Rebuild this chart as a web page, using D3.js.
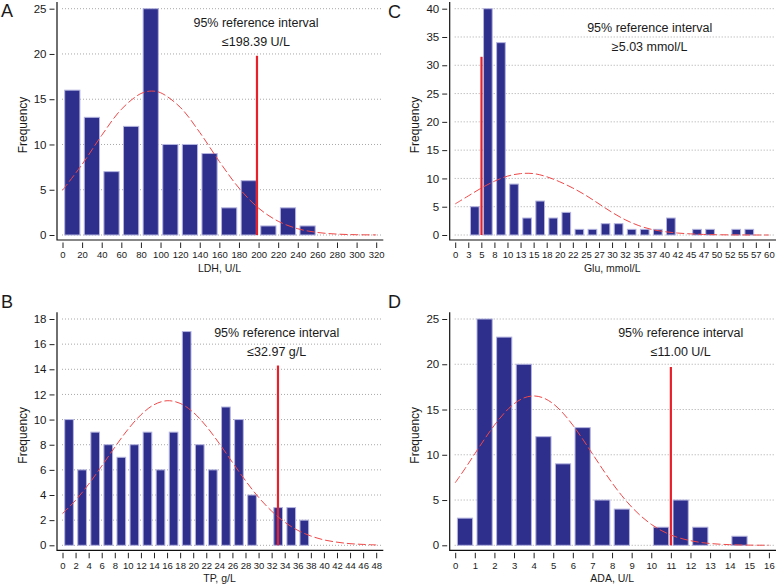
<!DOCTYPE html>
<html>
<head>
<meta charset="utf-8">
<script src="https://cdn.jsdelivr.net/npm/d3@7"></script>
<style>
  body { margin: 0; background: #fff; }
  svg { display: block; }
  text { font-family: "Liberation Sans", Arial, Helvetica, sans-serif; fill: #1a1a1a; }
</style>
</head>
<body>
<svg width="777" height="588"></svg>
<script>
// ---- Data ----

// A: LDH
const ldhBins = [0, 20, 40, 60, 80, 100, 120, 140, 160, 180, 200, 220, 240];
const ldhCounts = [16, 13, 7, 12, 25, 10, 10, 9, 3, 6, 1, 3, 1];
const ldhTicks = [0, 20, 40, 60, 80, 100, 120, 140, 160, 180, 200, 220, 240, 260, 280, 300, 320];
const ldhYTicks = [0, 5, 10, 15, 20, 25];
const ldhCurveX = [0, 20, 40, 60, 80, 91, 100, 120, 140, 160, 180, 200, 220, 240, 260, 280, 300, 320];
const ldhCurveY = [4.94, 7.8, 11.01, 13.88, 15.63, 15.9, 15.72, 14.12, 11.33, 8.12, 5.19, 2.97, 1.52, 0.69, 0.28, 0.1, 0.03, 0.01];

// B: TP
const tpBins = [0, 2, 4, 6, 8, 10, 12, 14, 16, 18, 20, 22, 24, 26, 28, 30, 32, 34, 36];
const tpCounts = [10, 6, 9, 8, 7, 8, 9, 6, 9, 17, 8, 6, 11, 10, 4, 0, 3, 3, 2];
const tpTicks = [0, 2, 4, 6, 8, 10, 12, 14, 16, 18, 20, 22, 24, 26, 28, 30, 32, 34, 36, 38, 40, 42, 44, 46, 48];
const tpYTicks = [0, 2, 4, 6, 8, 10, 12, 14, 16, 18];
const tpCurveX = [0, 2, 4, 6, 8, 10, 12, 14, 16, 18, 20, 22, 24, 26, 28, 30, 32, 34, 36, 38, 40, 42, 44, 46, 48];
const tpCurveY = [2.52, 3.58, 4.86, 6.3, 7.8, 9.21, 10.38, 11.18, 11.5, 11.29, 10.58, 9.47, 8.09, 6.6, 5.14, 3.82, 2.72, 1.84, 1.19, 0.74, 0.43, 0.25, 0.13, 0.07, 0.03];

// C: Glu
const gluBins = [2.5, 5, 7.5, 10, 12.5, 15, 17.5, 20, 22.5, 25, 27.5, 30, 32.5, 35, 37.5, 40, 42.5, 45, 47.5, 50, 52.5, 55];
const gluCounts = [5, 40, 34, 9, 3, 6, 3, 4, 1, 1, 2, 2, 1, 1, 1, 3, 0, 1, 1, 0, 1, 1];
const gluTicks = [0, 2.5, 5, 7.5, 10, 12.5, 15, 17.5, 20, 22.5, 25, 27.5, 30, 32.5, 35, 37.5, 40, 42.5, 45, 47.5, 50, 52.5, 55, 57.5, 60];
const gluTickLabels = ["0", "3", "5", "8", "10", "13", "15", "18", "20", "22", "25", "27", "30", "32", "35", "37", "40", "42", "45", "47", "50", "52", "55", "57", "60"];
const gluYTicks = [0, 5, 10, 15, 20, 25, 30, 35, 40];
const gluCurveX = [0, 2.5, 5, 7.5, 10, 12.5, 15, 17.5, 20, 22.5, 25, 27.5, 30, 32.5, 35, 37.5, 40, 42.5, 45, 47.5, 50, 52.5, 55, 57.5, 60];
const gluCurveY = [5.5, 6.9, 8.3, 9.5, 10.4, 10.85, 10.85, 10.3, 9.4, 8.3, 7.0, 5.5, 4.0, 2.7, 1.7, 1.0, 0.6, 0.35, 0.2, 0.1, 0.05, 0.02, 0.01, 0, 0];

// D: ADA
const adaBins = [0, 1, 2, 3, 4, 5, 6, 7, 8, 9, 10, 11, 12, 13, 14];
const adaCounts = [3, 25, 23, 20, 12, 9, 13, 5, 4, 0, 2, 5, 2, 0, 1];
const adaTicks = [0, 1, 2, 3, 4, 5, 6, 7, 8, 9, 10, 11, 12, 13, 14, 15, 16];
const adaYTicks = [0, 5, 10, 15, 20, 25];
const adaCurveX = [0, 0.5, 1, 1.5, 2, 2.5, 3, 3.5, 4, 4.5, 5, 5.5, 6, 6.5, 7, 7.5, 8, 8.5, 9, 9.5, 10, 10.5, 11, 11.5, 12, 12.5, 13, 13.5, 14, 14.5, 15, 15.5, 16];
const adaCurveY = [6.9, 8.47, 10.11, 11.74, 13.27, 14.6, 15.63, 16.28, 16.5, 16.28, 15.63, 14.6, 13.27, 11.74, 10.11, 8.47, 6.9, 5.48, 4.23, 3.18, 2.32, 1.65, 1.14, 0.77, 0.51, 0.32, 0.2, 0.12, 0.07, 0.04, 0.02, 0.01, 0.01];

// ---- Panel setup ----
const panels = [
  { letter: "A", ox: 0, oy: 0, lx: 1, ly: 17, title: "LDH, U/L",
    bins: ldhBins, counts: ldhCounts, binW: 20, xMax: 320, ticks: ldhTicks, labels: ldhTicks,
    yMax: 25, yTicks: ldhYTicks, cx: ldhCurveX, cy: ldhCurveY,
    ref: 198.39, refTop: 19.8, note: "≤198.39 U/L", nx: 256, ny: 27 },
  { letter: "C", ox: 392.7, oy: 0, lx: 388, ly: 18, title: "Glu, mmol/L",
    bins: gluBins, counts: gluCounts, binW: 2.5, xMax: 60, ticks: gluTicks, labels: gluTickLabels,
    yMax: 40, yTicks: gluYTicks, cx: gluCurveX, cy: gluCurveY,
    ref: 5.03, refTop: 31.5, note: "≥5.03 mmol/L", nx: 257, ny: 31.5 },
  { letter: "B", ox: 0, oy: 310.3, lx: 1, ly: 308, title: "TP, g/L",
    bins: tpBins, counts: tpCounts, binW: 2, xMax: 48, ticks: tpTicks, labels: tpTicks,
    yMax: 18, yTicks: tpYTicks, cx: tpCurveX, cy: tpCurveY,
    ref: 32.97, refTop: 14.3, note: "≤32.97 g/L", nx: 276.7, ny: 26.5 },
  { letter: "D", ox: 392.7, oy: 310.3, lx: 388, ly: 308, title: "ADA, U/L",
    bins: adaBins, counts: adaCounts, binW: 1, xMax: 16, ticks: adaTicks, labels: adaTicks,
    yMax: 25, yTicks: adaYTicks, cx: adaCurveX, cy: adaCurveY,
    ref: 11.0, refTop: 19.7, note: "≤11.00 U/L", nx: 288, ny: 26.5 }
];

const svg = d3.select("svg");

panels.forEach(function(p) {
  const g = svg.append("g");
  const ox = p.ox, oy = p.oy;

  const x = d3.scaleLinear().domain([0, p.xMax]).range([ox + 62.5, ox + 376.2]);
  const y = d3.scaleLinear().domain([0, p.yMax]).range([oy + 235, oy + 8.7]);

  // dotted gridlines
  g.append("g")
    .selectAll("line")
    .data(p.yTicks)
    .join("line")
      .attr("x1", ox + 62).attr("x2", ox + 383)
      .attr("y1", d => y(d)).attr("y2", d => y(d))
      .attr("stroke", "#a8a8a8")
      .attr("stroke-width", 1)
      .attr("stroke-dasharray", "1,2");

  // bars
  const pw = x(p.binW) - x(0);
  g.append("g")
    .selectAll("rect")
    .data(p.counts.map((c, i) => ({ lo: p.bins[i], c: c })).filter(d => d.c > 0))
    .join("rect")
      .attr("x", d => x(d.lo) + 2.2)
      .attr("width", pw - 4.4)
      .attr("y", d => y(d.c))
      .attr("height", d => y(0) - y(d.c))
      .attr("fill", "#2e2e8c")
      .attr("stroke", "#b4b4e0")
      .attr("stroke-width", 1);

  // reference line
  g.append("line")
    .attr("x1", x(p.ref)).attr("x2", x(p.ref))
    .attr("y1", y(0)).attr("y2", y(p.refTop))
    .attr("stroke", "#e8202a")
    .attr("stroke-width", 2.2);

  // normal curve
  const line = d3.line()
    .x(d => x(d[0]))
    .y(d => y(d[1]))
    .curve(d3.curveCatmullRom);
  g.append("path")
    .datum(p.cx.map((v, i) => [v, p.cy[i]]))
    .attr("d", line)
    .attr("fill", "none")
    .attr("stroke", "#f04848")
    .attr("stroke-width", 1)
    .attr("stroke-dasharray", "8,3");

  // axis lines
  g.append("path")
    .attr("d", `M${ox + 57},${oy + 2}V${oy + 240}H${ox + 383.3}`)
    .attr("fill", "none")
    .attr("stroke", "#111")
    .attr("stroke-width", 1.2);

  // y axis
  const ya = g.append("g")
    .attr("transform", `translate(${ox + 54.5},0)`)
    .call(d3.axisLeft(y).tickValues(p.yTicks).tickSize(5).tickPadding(3));
  ya.select(".domain").remove();
  ya.attr("font-family", null).attr("font-size", null);
  ya.selectAll("text").attr("font-size", "11.5px");
  ya.selectAll("line").attr("stroke", "#222");

  // x axis
  const xa = g.append("g")
    .attr("transform", `translate(0,${oy + 242.5})`)
    .call(d3.axisBottom(x).tickValues(p.ticks).tickFormat((d, i) => p.labels[i]).tickSize(5.5).tickPadding(3.5));
  xa.select(".domain").remove();
  xa.attr("font-family", null).attr("font-size", null);
  xa.selectAll("text").attr("font-size", "9.5px");
  xa.selectAll("line").attr("stroke", "#222");

  // axis titles
  g.append("text")
    .attr("x", ox + 219.5).attr("y", oy + 272)
    .attr("text-anchor", "middle")
    .attr("font-size", "10.5px")
    .text(p.title);
  g.append("text")
    .attr("transform", `translate(${ox + 26.5},${oy + 125}) rotate(-90)`)
    .attr("text-anchor", "middle")
    .attr("font-size", "12px")
    .text("Frequency");

  // annotation
  g.append("text")
    .attr("x", ox + p.nx).attr("y", oy + p.ny)
    .attr("text-anchor", "middle")
    .attr("font-size", "12.5px")
    .text("95% reference interval");
  g.append("text")
    .attr("x", ox + p.nx).attr("y", oy + p.ny + 19)
    .attr("text-anchor", "middle")
    .attr("font-size", "12.5px")
    .text(p.note);

  // panel letter
  svg.append("text")
    .attr("x", p.lx).attr("y", p.ly)
    .attr("font-size", "18px")
    .text(p.letter);
});
</script>
</body>
</html>
